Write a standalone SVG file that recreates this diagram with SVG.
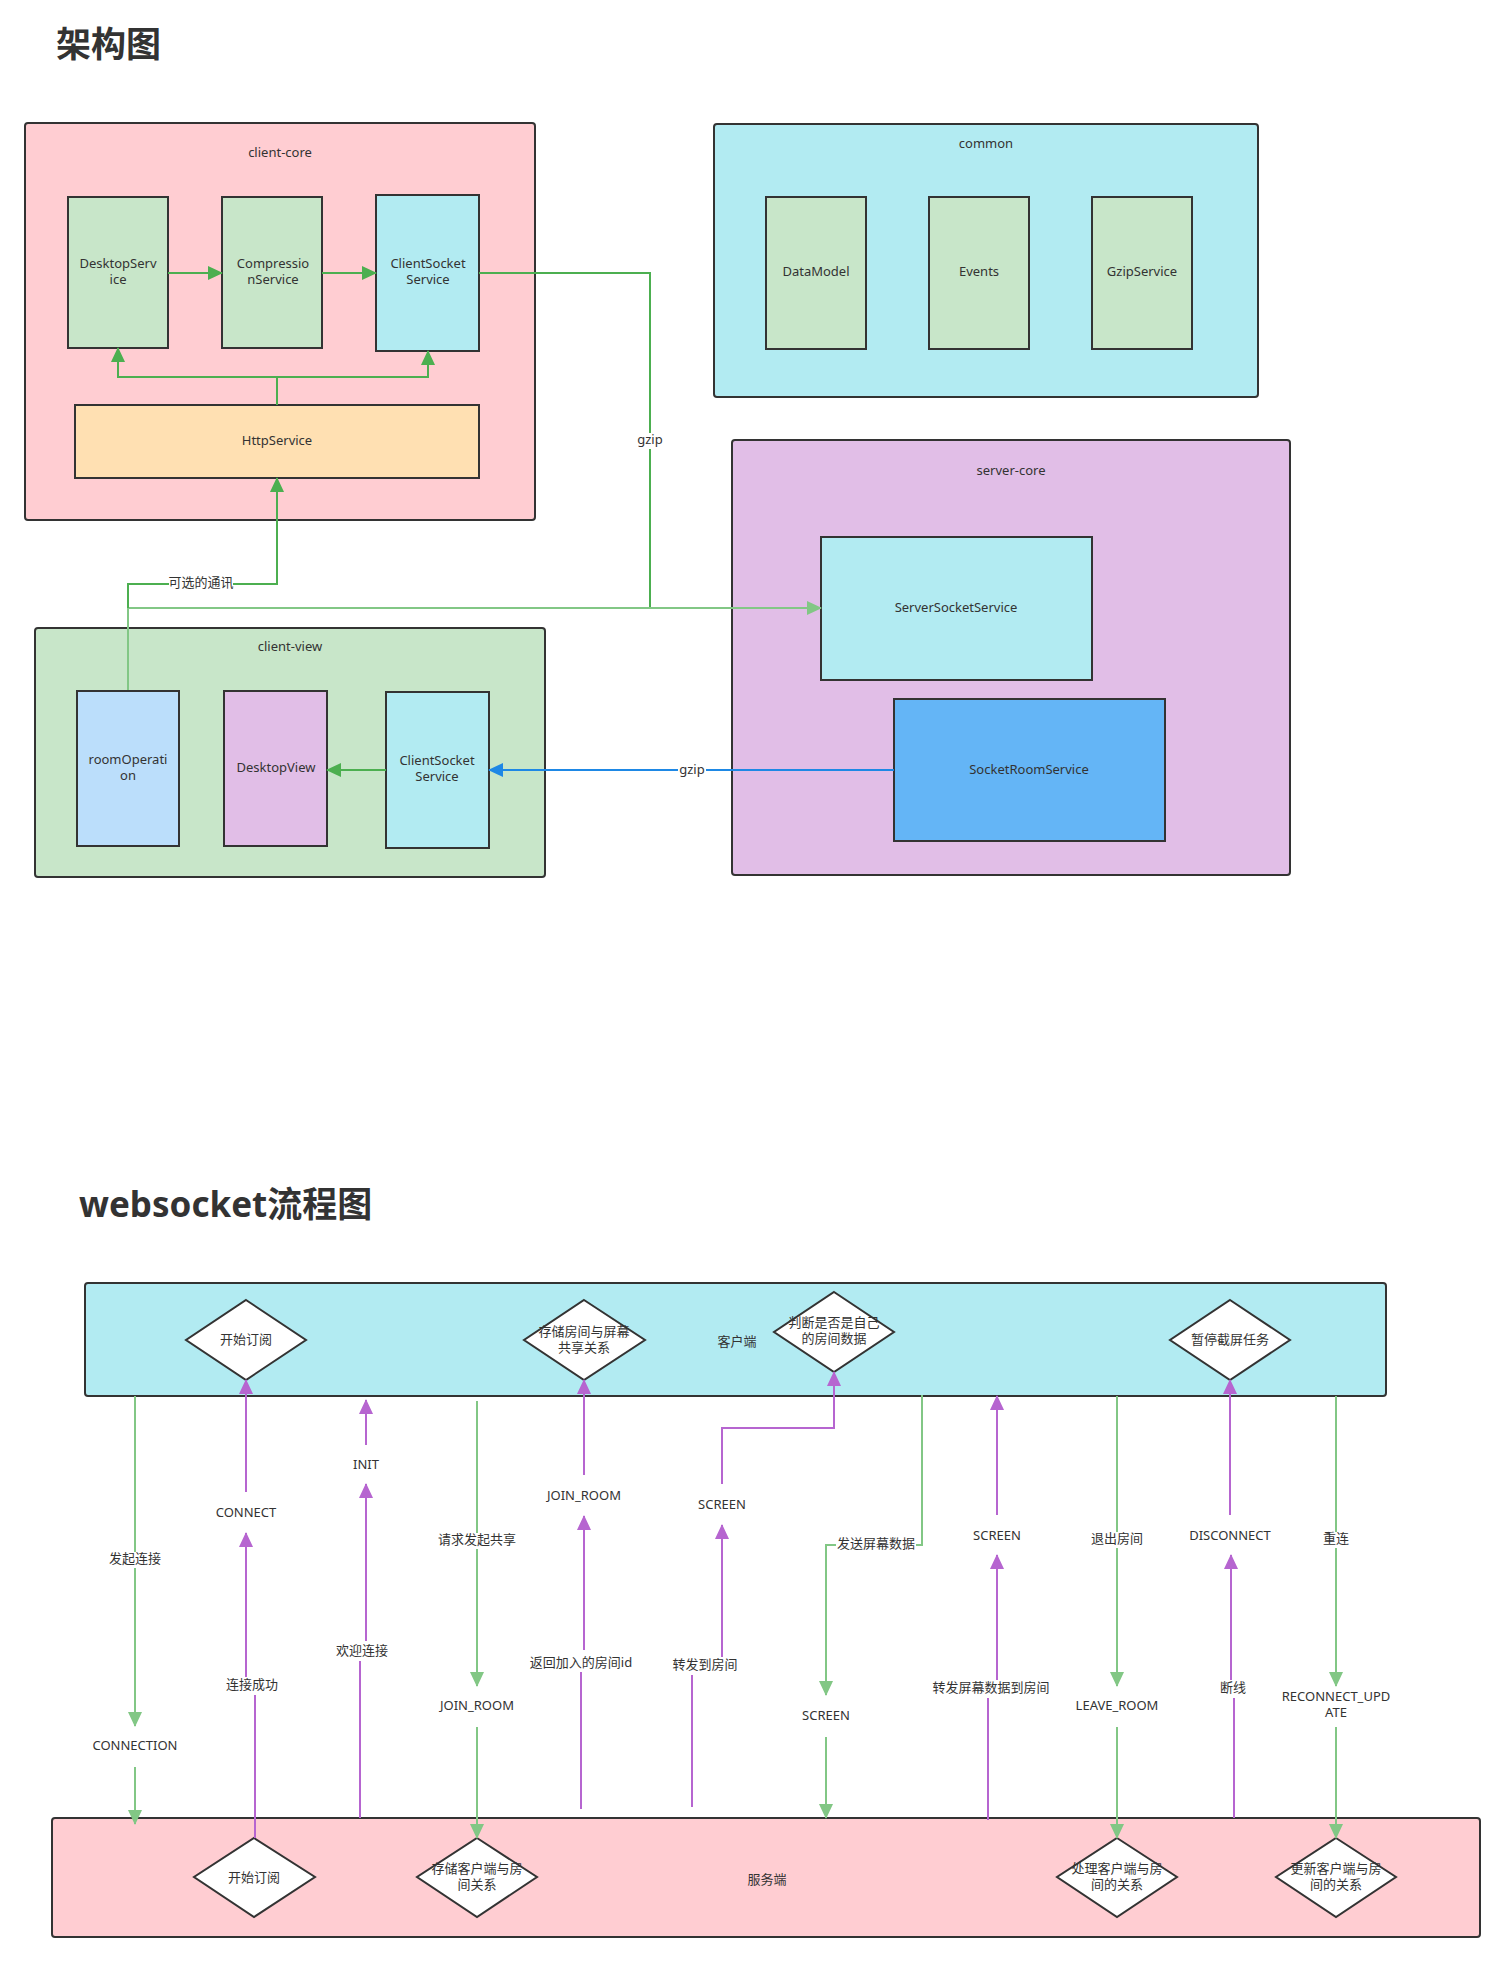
<svg xmlns="http://www.w3.org/2000/svg" width="1505" height="1963" viewBox="0 0 1505 1963">
<style>
text{font-family:"Noto Sans","Noto Sans CJK SC",sans-serif;fill:#333;font-size:13px;text-anchor:middle;dominant-baseline:middle}
.t{font-size:35px;font-weight:bold;text-anchor:start}
.b{stroke:#333;stroke-width:2}
.g{fill:none;stroke:#4caf50;stroke-width:2}
.lg{fill:none;stroke:#82c785;stroke-width:2}
.p{fill:none;stroke:#b665d0;stroke-width:2}
.bl{fill:none;stroke:#1e88e5;stroke-width:2}
.lb{fill:#fff;stroke:none}
</style>
<defs>
<marker id="ag" markerUnits="userSpaceOnUse" markerWidth="16" markerHeight="14" refX="14" refY="7" orient="auto"><path d="M0,0 L15,7 L0,14 Z" fill="#4caf50"/></marker>
<marker id="alg" markerUnits="userSpaceOnUse" markerWidth="16" markerHeight="14" refX="14" refY="7" orient="auto"><path d="M0,0 L15,7 L0,14 Z" fill="#82c785"/></marker>
<marker id="ap" markerUnits="userSpaceOnUse" markerWidth="16" markerHeight="14" refX="14" refY="7" orient="auto"><path d="M0,0 L15,7 L0,14 Z" fill="#b665d0"/></marker>
<marker id="ab" markerUnits="userSpaceOnUse" markerWidth="16" markerHeight="14" refX="14" refY="7" orient="auto"><path d="M0,0 L15,7 L0,14 Z" fill="#1e88e5"/></marker>
</defs>
<rect width="1505" height="1963" fill="#fff"/>
<text class="t" x="56" y="47">架构图</text>
<text class="t" x="79" y="1207">websocket流程图</text>

<g id="client-core"><rect class="b" x="25" y="123" width="510" height="397" rx="3" fill="#ffcdd2"/><text x="280" y="154">client-core</text></g>
<g id="common"><rect class="b" x="714" y="124" width="544" height="273" rx="3" fill="#b2ebf2"/><text x="986" y="145">common</text></g>
<g id="server-core"><rect class="b" x="732" y="440" width="558" height="435" rx="3" fill="#e1bee7"/><text x="1011" y="472">server-core</text></g>
<g id="client-view"><rect class="b" x="35" y="628" width="510" height="249" rx="3" fill="#c8e6c9"/><text x="290" y="648">client-view</text></g>

<g id="DesktopService"><rect class="b" x="68" y="197" width="100" height="151" fill="#c8e6c9"/><text x="118" y="265">DesktopServ</text><text x="118" y="281">ice</text></g>
<g id="CompressionService"><rect class="b" x="222" y="197" width="100" height="151" fill="#c8e6c9"/><text x="273" y="265">Compressio</text><text x="273" y="281">nService</text></g>
<g id="ClientSocketService1"><rect class="b" x="376" y="195" width="103" height="156" fill="#b2ebf2"/><text x="428" y="265">ClientSocket</text><text x="428" y="281">Service</text></g>
<g id="HttpService"><rect class="b" x="75" y="405" width="404" height="73" fill="#ffe0b2"/><text x="277" y="442">HttpService</text></g>
<g id="DataModel"><rect class="b" x="766" y="197" width="100" height="152" fill="#c8e6c9"/><text x="816" y="273">DataModel</text></g>
<g id="Events"><rect class="b" x="929" y="197" width="100" height="152" fill="#c8e6c9"/><text x="979" y="273">Events</text></g>
<g id="GzipService"><rect class="b" x="1092" y="197" width="100" height="152" fill="#c8e6c9"/><text x="1142" y="273">GzipService</text></g>
<g id="ServerSocketService"><rect class="b" x="821" y="537" width="271" height="143" fill="#b2ebf2"/><text x="956" y="609">ServerSocketService</text></g>
<g id="SocketRoomService"><rect class="b" x="894" y="699" width="271" height="142" fill="#64b5f6"/><text x="1029" y="771">SocketRoomService</text></g>
<g id="roomOperation"><rect class="b" x="77" y="691" width="102" height="155" fill="#bbdefb"/><text x="128" y="761">roomOperati</text><text x="128" y="777">on</text></g>
<g id="DesktopView"><rect class="b" x="224" y="691" width="103" height="155" fill="#e1bee7"/><text x="276" y="769">DesktopView</text></g>
<g id="ClientSocketService2"><rect class="b" x="386" y="692" width="103" height="156" fill="#b2ebf2"/><text x="437" y="762">ClientSocket</text><text x="437" y="778">Service</text></g>

<g id="client-band"><rect class="b" x="85" y="1283" width="1301" height="113" rx="3" fill="#b2ebf2"/><text x="737" y="1343">客户端</text></g>
<g id="server-band"><rect class="b" x="52" y="1818" width="1428" height="119" rx="3" fill="#ffcdd2"/><text x="767" y="1881">服务端</text></g>
<g id="d1"><polygon class="b" points="246,1300 306,1340 246,1380 186,1340" fill="#fff"/><text x="246" y="1341">开始订阅</text></g>
<g id="d2"><polygon class="b" points="584,1300 645,1340 584,1380 524,1340" fill="#fff"/><text x="584" y="1333">存储房间与屏幕</text><text x="584" y="1349">共享关系</text></g>
<g id="d3"><polygon class="b" points="834,1292 894,1332 834,1372 774,1332" fill="#fff"/><text x="834" y="1324">判断是否是自己</text><text x="834" y="1340">的房间数据</text></g>
<g id="d4"><polygon class="b" points="1230,1300 1290,1340 1230,1380 1170,1340" fill="#fff"/><text x="1230" y="1341">暂停截屏任务</text></g>
<g id="d5"><polygon class="b" points="254,1838 315,1877 254,1917 194,1877" fill="#fff"/><text x="254" y="1879">开始订阅</text></g>
<g id="d6"><polygon class="b" points="477,1838 537,1877 477,1917 417,1877" fill="#fff"/><text x="477" y="1870">存储客户端与房</text><text x="477" y="1886">间关系</text></g>
<g id="d7"><polygon class="b" points="1117,1838 1177,1877 1117,1917 1057,1877" fill="#fff"/><text x="1117" y="1870">处理客户端与房</text><text x="1117" y="1886">间的关系</text></g>
<g id="d8"><polygon class="b" points="1336,1838 1396,1877 1336,1917 1276,1877" fill="#fff"/><text x="1336" y="1870">更新客户端与房</text><text x="1336" y="1886">间的关系</text></g>

<g id="connectors">
<path class="g" d="M168,273 H222" marker-end="url(#ag)"/>
<path class="g" d="M322,273 H376" marker-end="url(#ag)"/>
<path class="g" d="M277,405 V377 H118 V348" marker-end="url(#ag)"/>
<path class="g" d="M277,377 H428 V351" marker-end="url(#ag)"/>
<path class="g" d="M479,273 H650 V608"/>
<path class="lg" d="M128,608 H821" marker-end="url(#alg)"/>
<rect class="lb" x="636" y="433" width="28" height="16"/><text x="650" y="441">gzip</text>
<path class="g" d="M128,690 V584 H277 V478" marker-end="url(#ag)"/>
<path class="lg" d="M128,690 V608"/>
<rect class="lb" x="169" y="576" width="64" height="16"/><text x="201" y="584">可选的通讯</text>
<path class="g" d="M386,770 H327" marker-end="url(#ag)"/>
<path class="bl" d="M894,770 H489" marker-end="url(#ab)"/>
<rect class="lb" x="678" y="762" width="28" height="16"/><text x="692" y="771">gzip</text>

<path class="lg" d="M135,1396 V1726" marker-end="url(#alg)"/>
<rect class="lb" x="107" y="1552" width="56" height="16"/><text x="135" y="1560">发起连接</text>
<text x="135" y="1747">CONNECTION</text>
<path class="lg" d="M135,1767 V1824" marker-end="url(#alg)"/>

<path class="p" d="M255,1838 V1695"/>
<text x="252" y="1686">连接成功</text>
<path class="p" d="M246,1677 V1533" marker-end="url(#ap)"/>
<text x="246" y="1514">CONNECT</text>
<path class="p" d="M246,1492 V1380" marker-end="url(#ap)"/>

<path class="p" d="M360,1818 V1661"/>
<text x="362" y="1652">欢迎连接</text>
<path class="p" d="M366,1641 V1484" marker-end="url(#ap)"/>
<text x="366" y="1466">INIT</text>
<path class="p" d="M366,1445 V1400" marker-end="url(#ap)"/>

<path class="lg" d="M477,1401 V1686" marker-end="url(#alg)"/>
<rect class="lb" x="437" y="1533" width="80" height="16"/><text x="477" y="1541">请求发起共享</text>
<text x="477" y="1707">JOIN_ROOM</text>
<path class="lg" d="M477,1727 V1838" marker-end="url(#alg)"/>

<path class="p" d="M581,1809 V1672"/>
<text x="581" y="1664">返回加入的房间id</text>
<path class="p" d="M584,1650 V1516" marker-end="url(#ap)"/>
<text x="584" y="1497">JOIN_ROOM</text>
<path class="p" d="M584,1475 V1380" marker-end="url(#ap)"/>

<path class="p" d="M692,1807 V1675"/>
<text x="705" y="1666">转发到房间</text>
<path class="p" d="M722,1657 V1525" marker-end="url(#ap)"/>
<text x="722" y="1506">SCREEN</text>
<path class="p" d="M722,1484 V1428 H834 V1372" marker-end="url(#ap)"/>

<path class="lg" d="M922,1395 V1545 H826 V1695" marker-end="url(#alg)"/>
<rect class="lb" x="836" y="1537" width="80" height="16"/><text x="876" y="1545">发送屏幕数据</text>
<text x="826" y="1717">SCREEN</text>
<path class="lg" d="M826,1737 V1818" marker-end="url(#alg)"/>

<path class="p" d="M988,1820 V1698"/>
<text x="991" y="1689">转发屏幕数据到房间</text>
<path class="p" d="M997,1680 V1555" marker-end="url(#ap)"/>
<text x="997" y="1537">SCREEN</text>
<path class="p" d="M997,1515 V1396" marker-end="url(#ap)"/>

<path class="lg" d="M1117,1396 V1686" marker-end="url(#alg)"/>
<rect class="lb" x="1091" y="1532" width="52" height="16"/><text x="1117" y="1540">退出房间</text>
<text x="1117" y="1707">LEAVE_ROOM</text>
<path class="lg" d="M1117,1727 V1838" marker-end="url(#alg)"/>

<path class="p" d="M1234,1818 V1698"/>
<text x="1233" y="1689">断线</text>
<path class="p" d="M1231,1680 V1555" marker-end="url(#ap)"/>
<text x="1230" y="1537">DISCONNECT</text>
<path class="p" d="M1230,1515 V1380" marker-end="url(#ap)"/>

<path class="lg" d="M1336,1396 V1686" marker-end="url(#alg)"/>
<rect class="lb" x="1320" y="1532" width="32" height="16"/><text x="1336" y="1540">重连</text>
<text x="1336" y="1698">RECONNECT_UPD</text><text x="1336" y="1714">ATE</text>
<path class="lg" d="M1336,1727 V1838" marker-end="url(#alg)"/>
</g>
</svg>
